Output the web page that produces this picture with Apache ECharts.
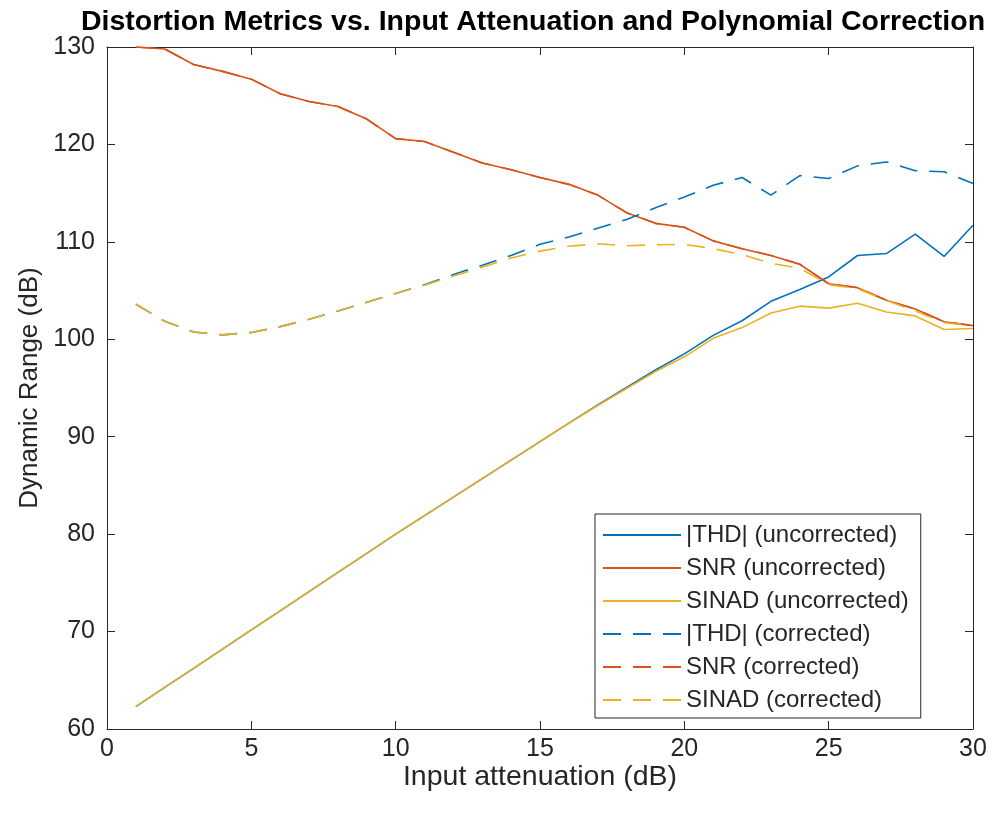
<!DOCTYPE html>
<html>
<head>
<meta charset="utf-8">
<script src="https://cdn.jsdelivr.net/npm/echarts@6/dist/echarts.min.js"></script>
<style>html,body{margin:0;padding:0;background:#fff;}#chart{width:1008px;height:815px;}</style>
</head>
<body>
<div id="chart"></div>
<script>
const attenuation = [1,2,3,4,5,6,7,8,9,10,11,12,13,14,15,16,17,18,19,20,21,22,23,24,25,26,27,28,29,30];
const thdUncorrected = [62.3,64.27,66.23,68.2,70.17,72.13,74.1,76.07,78.03,80.0,81.9,83.8,85.7,87.6,89.5,91.4,93.25,95.05,96.85,98.5,100.4,101.9,103.9,105.1,106.4,108.6,108.8,110.8,108.5,111.7];
const snrUncorrected = [130.0,129.8,128.2,127.5,126.7,125.2,124.4,123.9,122.6,120.6,120.3,119.2,118.1,117.4,116.6,115.9,114.8,113.0,111.9,111.5,110.1,109.3,108.6,107.7,105.7,105.3,104.0,103.1,101.8,101.4];
const sinadUncorrected = [62.3,64.27,66.23,68.2,70.17,72.13,74.1,76.07,78.03,80.0,81.9,83.8,85.7,87.6,89.5,91.4,93.2,94.95,96.7,98.2,100.1,101.2,102.7,103.4,103.2,103.7,102.8,102.4,101.0,101.1];
const thdCorrected = [103.6,101.85,100.75,100.45,100.7,101.3,102.05,102.9,103.8,104.7,105.6,106.65,107.6,108.6,109.75,110.5,111.4,112.3,113.5,114.6,115.8,116.6,114.8,116.8,116.5,117.8,118.2,117.3,117.2,116.0];
const snrCorrected = [130.0,129.8,128.2,127.5,126.7,125.2,124.4,123.9,122.6,120.6,120.3,119.2,118.1,117.4,116.6,115.9,114.8,113.0,111.9,111.5,110.1,109.3,108.6,107.7,105.7,105.3,104.0,103.1,101.8,101.4];
const sinadCorrected = [103.6,101.85,100.75,100.45,100.7,101.3,102.05,102.9,103.8,104.7,105.55,106.5,107.4,108.35,109.05,109.55,109.8,109.6,109.7,109.75,109.3,108.7,107.8,107.3,105.6,105.2,104.0,102.9,101.7,101.4];
const seriesNames = ['|THD| (uncorrected)','SNR (uncorrected)','SINAD (uncorrected)','|THD| (corrected)','SNR (corrected)','SINAD (corrected)'];
const seriesData = [thdUncorrected, snrUncorrected, sinadUncorrected, thdCorrected, snrCorrected, sinadCorrected];
const colors = ['#0072BD','#D95319','#EDB120','#0072BD','#D95319','#EDB120'];
const dashed = [false,false,false,true,true,true];
const xTicks = {min:0,max:30,interval:5};
const yTicks = {min:60,max:130,interval:10};

const chart = echarts.init(document.getElementById('chart'), null, {renderer:'canvas'});
const font = 'Liberation Sans, Arial, Helvetica, sans-serif';
const axisCommon = {
  axisLine:{show:true,onZero:false,lineStyle:{color:'#262626',width:1}},
  axisTick:{show:true,inside:true,length:8,lineStyle:{color:'#262626',width:1}},
  splitLine:{show:false}
};
const series = seriesNames.map((n,i)=>({
  name:n,type:'line',symbol:'none',showSymbol:false,
  data:attenuation.map((x,j)=>[x,seriesData[i][j]]),
  lineStyle:{color:colors[i],width:1.6,type:dashed[i]?[18,12]:'solid'},
  itemStyle:{color:colors[i]},
  emphasis:{disabled:true},
  animation:false,clip:true
}));
chart.setOption({
  backgroundColor:'#fff',
  animation:false,
  title:{text:'Distortion Metrics vs. Input Attenuation and Polynomial Correction',left:528,textAlign:'center',top:3,
    textStyle:{fontFamily:font,fontWeight:'bold',fontSize:28.5,color:'#000'}},
  grid:{left:107,right:35,top:47,bottom:86,containLabel:false},
  legend:{orient:'vertical',left:595,top:514,
    padding:[9,12,6,7],itemGap:9,itemWidth:78,itemHeight:24,
    backgroundColor:'#fff',borderColor:'#262626',borderWidth:1,borderRadius:0,
    itemStyle:{opacity:0},
    textStyle:{fontFamily:font,fontSize:24,color:'#262626'},
    data:seriesNames
  },
  xAxis:[
    Object.assign({type:'value',position:'bottom',min:xTicks.min,max:xTicks.max,interval:xTicks.interval,
      name:'Input attenuation (dB)',nameLocation:'middle',nameGap:34,nameMoveOverlap:false,
      nameTextStyle:{fontFamily:font,fontSize:28.5,color:'#262626'},
      axisLabel:{fontFamily:font,fontSize:25,color:'#262626',margin:8}},axisCommon),
    Object.assign({type:'value',position:'top',min:xTicks.min,max:xTicks.max,interval:xTicks.interval,axisLabel:{show:false}},axisCommon)
  ],
  yAxis:[
    Object.assign({type:'value',position:'left',min:yTicks.min,max:yTicks.max,interval:yTicks.interval,
      name:'Dynamic Range (dB)',nameLocation:'middle',nameGap:61,
      nameTextStyle:{fontFamily:font,fontSize:26,color:'#262626'},
      axisLabel:{fontFamily:font,fontSize:25,color:'#262626',margin:12}},axisCommon),
    Object.assign({type:'value',position:'right',min:yTicks.min,max:yTicks.max,interval:yTicks.interval,axisLabel:{show:false}},axisCommon)
  ],
  series:series
});
</script>
</body>
</html>
